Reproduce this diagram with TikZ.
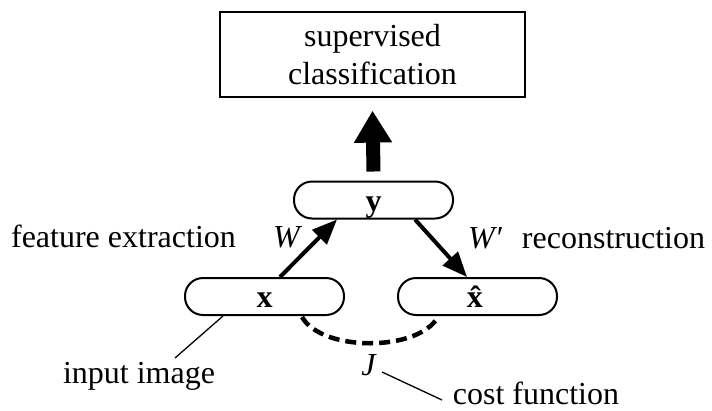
\documentclass[tikz,border=0pt]{standalone}
\usepackage{fontspec}
\setmainfont{Liberation Serif}
\usetikzlibrary{arrows.meta}
\begin{document}
\begin{tikzpicture}[x=1pt,y=-1pt,
  every node/.style={font=\fontsize{32pt}{38pt}\selectfont, inner sep=0pt},
  pill/.style={draw, line width=2pt, rounded corners=18pt, minimum width=159pt, minimum height=37pt, text height=22pt, text depth=0pt},
  headbox/.style={draw, line width=2.2pt, minimum width=305pt, minimum height=85pt, align=center},
  wire/.style={line width=4pt, -{Triangle[width=20pt,length=25pt]}},
  bigarrow/.style={line width=14pt, -{Triangle[width=36pt,length=32pt]}},
  costline/.style={line width=4.5pt, dash pattern=on 11pt off 6pt},
  pointer/.style={line width=1.3pt},
  lbl/.style={anchor=base},
  lblw/.style={anchor=base west}
]
\useasboundingbox (0,0) rectangle (712,410);
\node[headbox] (top) at (372.5,54.5) {supervised\\classification};
\node[pill] (y) at (373.5,200) {\textbf{y}};
\node[pill] (x) at (264.5,296.5) {\textbf{x}};
\node[pill] (xh) at (477.5,296.5) {\textbf{\^{x}}};
\draw[bigarrow] ([yshift=9pt]y.north) -- ([yshift=-12.5pt]top.south);
\draw[wire] ([xshift=15.5pt]x.north) -- ([xshift=-36.5pt]y.south);
\draw[wire] ([xshift=41.5pt]y.south) -- ([xshift=-10.5pt]xh.north);
\draw[costline] ([xshift=37.5pt,yshift=-1pt]x.south) .. controls +(20,35) and +(-20,35) .. ([xshift=-39.5pt,yshift=-1pt]xh.south);
\node[lbl] (fe) at (123.5,247) {feature extraction};
\node[lbl] (rc) at (613.5,248) {reconstruction};
\node[lblw] (W) at (273,247) {\textit{W}};
\node[lblw] (Wp) at (468,248) {\textit{W′}};
\node[lbl] (inp) at (139,383) {input image};
\coordinate (inpend) at (175,358);
\draw[pointer] ([xshift=-41.5pt]x.south) -- (inpend);
\node[lbl] (J) at (369,375) {\textit{J}};
\node[lbl] (cf) at (536,404) {cost function};
\coordinate (jstart) at (382,372);
\coordinate (jend) at (442,400);
\draw[pointer] (jstart) -- (jend);
\end{tikzpicture}
\end{document}
